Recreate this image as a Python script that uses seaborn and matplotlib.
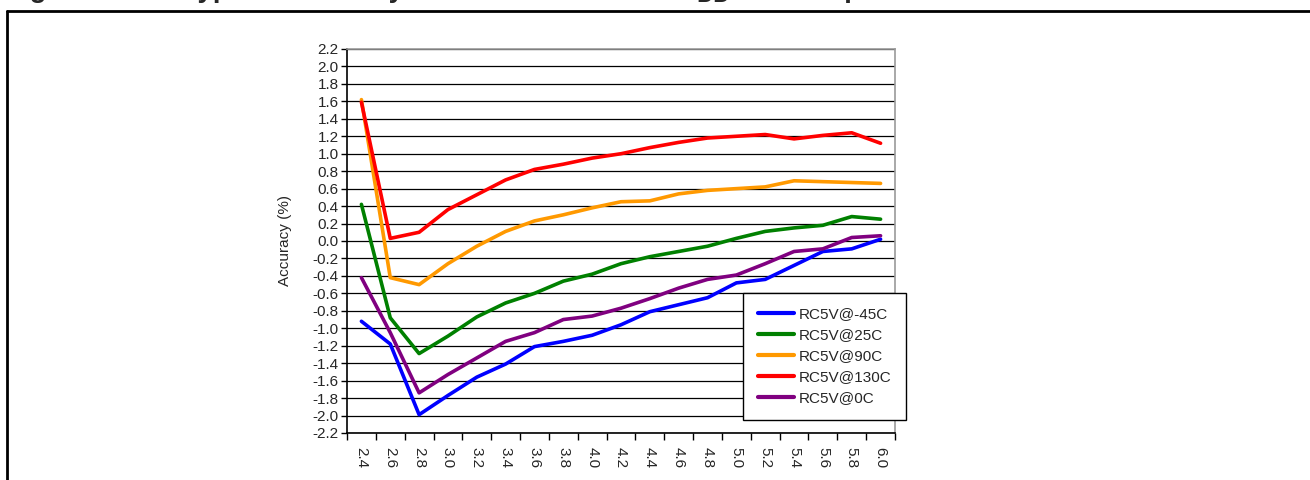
import pandas as pd
import matplotlib.pyplot as plt
import seaborn as sns
from matplotlib.lines import Line2D

# Data
vdd = [2.4, 2.6, 2.8, 3.0, 3.2, 3.4, 3.6, 3.8, 4.0, 4.2,
       4.4, 4.6, 4.8, 5.0, 5.2, 5.4, 5.6, 5.8, 6.0]
acc_m45 = [-0.92, -1.18, -1.99, -1.77, -1.56, -1.41, -1.21, -1.15, -1.08, -0.96,
           -0.81, -0.73, -0.65, -0.48, -0.44, -0.28, -0.12, -0.09, 0.02]
acc_25 = [0.42, -0.88, -1.29, -1.09, -0.87, -0.71, -0.60, -0.46, -0.38, -0.26,
          -0.18, -0.12, -0.06, 0.03, 0.11, 0.15, 0.18, 0.28, 0.25]
acc_90 = [1.62, -0.42, -0.50, -0.26, -0.06, 0.11, 0.23, 0.30, 0.38, 0.45,
          0.46, 0.54, 0.58, 0.60, 0.62, 0.69, 0.68, 0.67, 0.66]
acc_130 = [1.59, 0.03, 0.10, 0.36, 0.53, 0.70, 0.82, 0.88, 0.95, 1.00,
           1.07, 1.13, 1.18, 1.20, 1.22, 1.17, 1.21, 1.24, 1.12]
acc_0 = [-0.42, -1.05, -1.74, -1.53, -1.34, -1.15, -1.05, -0.90, -0.86, -0.77,
         -0.66, -0.54, -0.44, -0.39, -0.26, -0.12, -0.09, 0.04, 0.06]
series_names = ['RC5V@-45C', 'RC5V@25C', 'RC5V@90C', 'RC5V@130C', 'RC5V@0C']
colors = ['#0000FF', '#008000', '#FF9900', '#FF0000', '#800080']

df = pd.DataFrame({
    'vdd': vdd * 5,
    'acc': acc_m45 + acc_25 + acc_90 + acc_130 + acc_0,
    'series': [s for s in series_names for _ in vdd],
})

sns.set_style('white')
plt.rcParams['font.family'] = ['Liberation Sans', 'DejaVu Sans']

fig = plt.figure(figsize=(13.1, 4.8), dpi=100)
ax = fig.add_axes([347 / 1310, 47 / 480, 548 / 1310, 384 / 480])

sns.lineplot(data=df, x='vdd', y='acc', hue='series', hue_order=series_names,
             palette=colors, linewidth=2.6, sort=False, ax=ax, legend=False)

ax.set_xlim(2.3, 6.1)
ax.set_ylim(-2.2, 2.2)
yt = [round(-2.2 + 0.2 * i, 1) for i in range(23)]
ax.set_yticks(yt)
ax.set_yticklabels([f'{v:.1f}' for v in yt], fontsize=11)
ax.set_xticks(vdd)
ax.set_xticklabels([f'{v:.1f}' for v in vdd], rotation=-90, fontsize=11)
ax.set_xticks([2.3 + 0.2 * i for i in range(20)], minor=True)
ax.tick_params(axis='x', which='major', length=0, pad=10)
ax.tick_params(axis='x', which='minor', length=5, width=1, color='black', direction='out', bottom=True)
ax.tick_params(axis='y', length=4, width=1, color='black', direction='out', left=True, pad=2)
ax.yaxis.grid(True, color='black', linewidth=0.9)
ax.xaxis.grid(False)
ax.set_axisbelow(True)
ax.set_xlabel('')
ax.set_ylabel('Accuracy (%)', fontsize=11, labelpad=15)

for side in ['left', 'bottom']:
    ax.spines[side].set_color('black')
    ax.spines[side].set_linewidth(1.2)
for side in ['top', 'right']:
    ax.spines[side].set_color('#999999')
    ax.spines[side].set_linewidth(1.2)

handles = [Line2D([0], [0], color=c, linewidth=3) for c in colors]
leg = ax.legend(handles, series_names, loc='upper left',
                bbox_to_anchor=(743 / 1310, 1 - 293 / 480), bbox_transform=fig.transFigure,
                fontsize=11, frameon=True, fancybox=False, framealpha=1,
                edgecolor='black', handlelength=2.4, handletextpad=0.3,
                labelspacing=0.45, borderpad=0.95, borderaxespad=0)
leg.get_frame().set_linewidth(1.0)

# figure caption, cut off at the top edge as in the source page
W, H = 1310, 480
t1 = fig.text(5 / W, 1 + 3 / H, 'Figure 12.      Typical accuracy of the HSI RC5V vs. V',
              fontsize=20, fontweight='bold', va='baseline', ha='left')
fig.canvas.draw()
x1 = t1.get_window_extent().x1
t2 = fig.text(x1 / W, 1 - 2 / H, 'DD', fontsize=17, fontweight='bold', va='baseline', ha='left')
fig.canvas.draw()
x2 = t2.get_window_extent().x1
fig.text(x2 / W, 1 + 3 / H, ' and temperature',
         fontsize=20, fontweight='bold', va='baseline', ha='left')

fig.add_artist(Line2D([7 / W, 1], [1 - 11 / H, 1 - 11 / H],
                      transform=fig.transFigure, color='black', linewidth=2))
fig.add_artist(Line2D([7 / W, 7 / W], [0, 1 - 11 / H],
                      transform=fig.transFigure, color='black', linewidth=2))

fig.savefig('out.png', dpi=100)
